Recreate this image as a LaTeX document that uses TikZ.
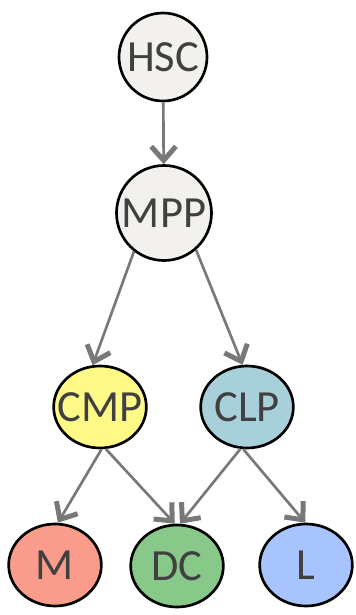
\documentclass[tikz,border=0pt]{standalone}
\usepackage{fontspec}
\setmainfont{Carlito}
\usepackage{tikz}
\usetikzlibrary{arrows.meta,shapes.geometric}

\definecolor{stemgray}{HTML}{F2F1EE}
\definecolor{cmpyellow}{HTML}{FFFA88}
\definecolor{clpblue}{HTML}{A8D0DA}
\definecolor{mred}{HTML}{FA9C8C}
\definecolor{dcgreen}{HTML}{88C888}
\definecolor{lblue}{HTML}{A8C4FF}
\definecolor{txtgray}{HTML}{404040}
\definecolor{arrgray}{HTML}{787878}

% text may run over the ellipse edge, as in the original
\newcommand{\celltext}[1]{\makebox[0pt]{#1}}

\tikzset{
	cell/.style={draw=black, line width=0.08cm, text=txtgray, inner sep=0pt,
		font=\fontsize{38}{40}\selectfont},
	stemcell/.style={cell, circle, fill=stemgray},
	progcell/.style={cell, ellipse, minimum width=2.78cm, minimum height=2.46cm},
	lineage/.style={line width=0.08cm, color=arrgray,
		-{Straight Barb[length=0.42cm, width=0.74cm, line width=0.15cm]}}
}

\begin{document}
\begin{tikzpicture}[x=0.03cm, y=-0.03cm]
		%%%%% START %%%%%
		
		\useasboundingbox (0, 0) rectangle (355, 615);
		
		\node[stemcell, minimum size=2.64cm] (hsc) at (163, 57) {\celltext{HSC}};
		\node[stemcell, minimum size=2.85cm] (mpp) at (164, 213) {\celltext{MPP}};
		
		\node[progcell, fill=cmpyellow] (cmp) at (100, 407) {\celltext{CMP}};
		\node[progcell, fill=clpblue] (clp) at (247, 407) {\celltext{CLP}};
		
		\node[progcell, fill=mred] (m) at (55, 565) {\celltext{M}};
		\node[progcell, fill=dcgreen] (dc) at (177, 566) {\celltext{DC}};
		\node[progcell, fill=lblue] (l) at (306, 565) {\celltext{L}};
		
		\draw[lineage] (hsc) -- (mpp);
		
		\draw[lineage] (mpp.232) -- (cmp.100);
		\draw[lineage] (mpp.311) -- (clp.96);
		
		\draw[lineage] (cmp.272) -- (m.86);
		\draw[lineage] (cmp.278) -- (dc.93);
		\draw[lineage] (clp.261) -- (dc.86);
		\draw[lineage] (clp.265) -- (l.91);
		
		%%%%% END %%%%%
	\end{tikzpicture}
\end{document}
